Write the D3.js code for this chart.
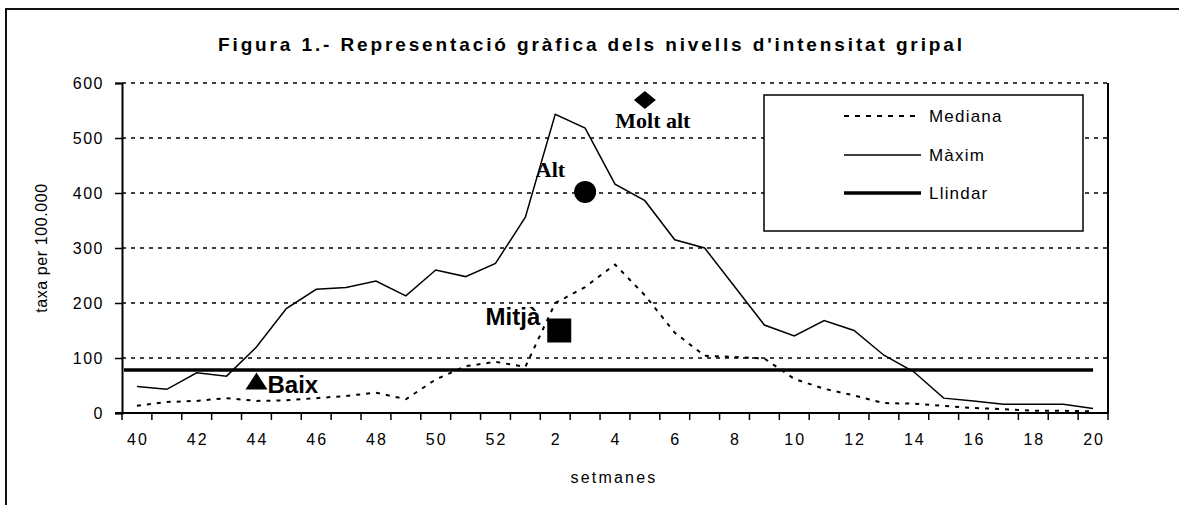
<!DOCTYPE html>
<html><head><meta charset="utf-8">
<script src="https://cdn.jsdelivr.net/npm/d3@7"></script>
<style>body{margin:0;background:#fff}svg{display:block}text{font-family:Arial,"Liberation Sans",sans-serif}</style>
</head><body>
<svg id="c" width="1179" height="505"></svg>
<script>
const weeks = [40,41,42,43,44,45,46,47,48,49,50,51,52,1,2,3,4,5,6,7,8,9,10,11,12,13,14,15,16,17,18,19,20];
const mediana = [13,20,22,27,22,23,27,31,37,25,61,85,93,84,200,229,270,214,146,104,102,99,62,44,32,18,17,13,9,7,4,4,3];
const maxim = [48,43,73,67,120,190,225,228,240,213,260,248,272,356,543,518,416,386,315,300,230,160,140,168,150,105,75,27,22,16,16,16,8];
const llindar = 78;
const yTicks = [0,100,200,300,400,500,600];
const xTickLabels = [40,42,44,46,48,50,52,2,4,6,8,10,12,14,16,18,20];
const levelNames = ["Baix","Mitjà","Alt","Molt alt"];
const levelWeeks = [44,2,3,5];
const levelValues = [58,150,402,569];
const levelShapes = ["triangle","square","circle","diamond"];
const legendNames = ["Mediana","Màxim","Llindar"];
const titleText = "Figura 1.- Representació gràfica dels nivells d'intensitat gripal";

const svg = d3.select("#c");
const L = 122, R = 1108, T = 83, B = 413;
const x = d3.scaleBand().domain(weeks).range([L, R]).padding(0);
const cx = w => x(w) + x.bandwidth() / 2;
const y = d3.scaleLinear().domain([0, 600]).range([B, T]);

// outer frame
svg.append("rect").attr("x", 6).attr("y", 9).attr("width", 1250).attr("height", 600)
  .attr("fill", "none").attr("stroke", "#111").attr("stroke-width", 2);

// title
svg.append("text").attr("x", 218).attr("y", 51).attr("textLength", 744).attr("lengthAdjust", "spacing")
  .attr("font-size", 19).attr("font-weight", "bold").text(titleText);

// gridlines
svg.append("g").selectAll("line").data(yTicks.filter(d => d > 0)).join("line")
  .attr("x1", L).attr("x2", R).attr("y1", d => y(d)).attr("y2", d => y(d))
  .attr("stroke", "#000").attr("stroke-width", 1.5).attr("stroke-dasharray", "4,5");

// right border of plot
svg.append("line").attr("x1", R).attr("x2", R).attr("y1", T).attr("y2", B)
  .attr("stroke", "#000").attr("stroke-width", 2);

// y axis
const ya = svg.append("g").attr("transform", `translate(${L},0)`)
  .call(d3.axisLeft(y).tickValues(yTicks).tickSize(7).tickPadding(11));
ya.select(".domain").attr("stroke-width", 2).attr("stroke", "#000");
ya.selectAll(".tick line").attr("stroke-width", 1.5);
ya.selectAll("text").attr("font-size", 16).attr("letter-spacing", "1.5px").attr("fill", "#000")
  .attr("font-family", "Arial, 'Liberation Sans', sans-serif");

// x axis: tick marks at band boundaries, labels at centers
const bounds = weeks.map(w => x(w)).concat([R]);
svg.append("g").selectAll("line").data(bounds).join("line")
  .attr("x1", d => d).attr("x2", d => d).attr("y1", B).attr("y2", B + 7)
  .attr("stroke", "#000").attr("stroke-width", 1.5);
svg.append("line").attr("x1", L - 7).attr("x2", R).attr("y1", B).attr("y2", B)
  .attr("stroke", "#000").attr("stroke-width", 2);
svg.append("g").selectAll("text").data(xTickLabels).join("text")
  .attr("x", d => cx(d) + 1).attr("y", 445).attr("text-anchor", "middle")
  .attr("font-size", 16).attr("letter-spacing", "2px").text(d => d);

// axis titles
svg.append("text").attr("transform", "translate(47,248) rotate(-90)").attr("text-anchor", "middle")
  .attr("font-size", 16).attr("letter-spacing", "0.6px").text("taxa per 100.000");
svg.append("text").attr("x", 614).attr("y", 483).attr("text-anchor", "middle")
  .attr("font-size", 16).attr("letter-spacing", "2.2px").text("setmanes");

// lines
const line = d3.line().x((d, i) => cx(weeks[i])).y(d => y(d));
svg.append("path").datum(mediana).attr("d", line).attr("fill", "none")
  .attr("stroke", "#000").attr("stroke-width", 2).attr("stroke-dasharray", "4,6");
svg.append("path").datum(maxim).attr("d", line).attr("fill", "none")
  .attr("stroke", "#000").attr("stroke-width", 1.5);
svg.append("line").attr("x1", L + 2).attr("x2", cx(weeks[weeks.length - 1]))
  .attr("y1", y(llindar)).attr("y2", y(llindar)).attr("stroke", "#000").attr("stroke-width", 3.5);

// level markers
function shapePath(s, px, py) {
  if (s === "triangle") return `M${px - 11},${py + 8.5}L${px + 11},${py + 8.5}L${px},${py - 8.5}Z`;
  if (s === "square") return `M${px - 12},${py - 12}h24v24h-24Z`;
  if (s === "diamond") return `M${px},${py - 9}L${px + 11},${py}L${px},${py + 9}L${px - 11},${py}Z`;
  return `M${px - 11},${py}a11,11 0 1,0 22,0a11,11 0 1,0 -22,0Z`;
}
const lv = svg.append("g");
levelNames.forEach((n, i) => {
  const px = cx(levelWeeks[i]) + (levelShapes[i] === "square" ? 4 : 0), py = y(levelValues[i]);
  lv.append("path").attr("d", shapePath(levelShapes[i], px, py)).attr("fill", "#000");
});
const lvText = [
  {dx: 11, dy: 12, anchor: "start", serif: false, size: 24},
  {dx: -15, dy: -6, anchor: "end", serif: false, size: 24},
  {dx: -20, dy: -15, anchor: "end", serif: true, size: 22},
  {dx: 8, dy: 28, anchor: "middle", serif: true, size: 22}
];
levelNames.forEach((n, i) => {
  const px = cx(levelWeeks[i]), py = y(levelValues[i]), o = lvText[i];
  lv.append("text").attr("x", px + o.dx).attr("y", py + o.dy).attr("text-anchor", o.anchor)
    .attr("font-size", o.size).attr("font-weight", "bold")
    .style("font-family", o.serif ? "'Liberation Serif','Times New Roman',serif" : "Arial,'Liberation Sans',sans-serif")
    .text(n);
});

// legend
const lg = svg.append("g");
lg.append("rect").attr("x", 764).attr("y", 95).attr("width", 319).attr("height", 136)
  .attr("fill", "#fff").attr("stroke", "#000").attr("stroke-width", 1.5);
const legStyles = [
  {w: 2, dash: "5,6"}, {w: 1.5, dash: null}, {w: 3.5, dash: null}
];
const legY = [116, 155, 193];
legendNames.forEach((n, i) => {
  lg.append("line").attr("x1", 844).attr("x2", 921).attr("y1", legY[i]).attr("y2", legY[i])
    .attr("stroke", "#000").attr("stroke-width", legStyles[i].w)
    .attr("stroke-dasharray", legStyles[i].dash);
  lg.append("text").attr("x", 929).attr("y", legY[i] + 6).attr("font-size", 17)
    .attr("letter-spacing", "1.2px").text(n);
});
</script>
</body></html>
